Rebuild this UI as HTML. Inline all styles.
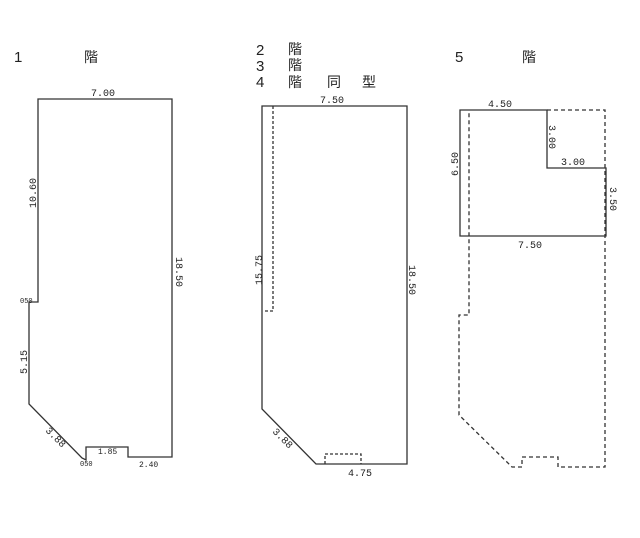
<html><body style="margin:0;background:#fff;width:640px;height:538px;overflow:hidden">
<svg width="640" height="538" xmlns="http://www.w3.org/2000/svg" font-family="Liberation Sans, sans-serif" fill="none" stroke="#333" stroke-width="1.3">
<g fill="#222" stroke="none" font-size="15">
<text x="14" y="62">1</text><text x="84" y="62" font-family="Liberation Sans, Noto Sans CJK JP, sans-serif" font-size="14">階</text>
<text x="256" y="55">2</text><text x="256" y="71">3</text><text x="256" y="87">4</text>
<g font-family="Liberation Sans, Noto Sans CJK JP, sans-serif" font-size="14"><text x="288" y="54">階</text><text x="288" y="70">階</text><text x="288" y="87">階</text><text x="327" y="87">同</text><text x="362" y="87">型</text><text x="522" y="62">階</text></g>
<text x="455" y="62">5</text>
</g>
<path d="M38,99H172V457H128V447H86V460L82,458L29,404V302H38Z"/>
<path d="M262,106H407V464H316L262,409Z"/>
<path d="M273,106V311H263" stroke-dasharray="3,2"/>
<path d="M325,464V454H361V464" stroke-dasharray="3,2"/>
<path d="M460,110H547V168H606V236H460Z"/>
<path d="M547,110H605V467H558V457H522V467H512L459,415V315H469V110" stroke-dasharray="4,3"/>
<g fill="#222" stroke="none" font-size="10" font-family="Liberation Mono, monospace">
<text x="91" y="96">7.00</text>
<text transform="translate(36,208) rotate(-90)">10.60</text>
<text transform="translate(176,257) rotate(90)">18.50</text>
<text x="20" y="303" font-size="7">050</text>
<text transform="translate(27,374) rotate(-90)">5.15</text>
<text transform="translate(45,431) rotate(45)">3.88</text>
<text x="98" y="454" font-size="8">1.85</text>
<text x="139" y="467" font-size="8">2.40</text>
<text x="80" y="466" font-size="7">050</text>
<text x="320" y="103">7.50</text>
<text transform="translate(262,285) rotate(-90)">15.75</text>
<text transform="translate(409,265) rotate(90)">18.50</text>
<text transform="translate(272,432) rotate(45)">3.88</text>
<text x="348" y="476">4.75</text>
<text x="488" y="107">4.50</text>
<text transform="translate(549,125) rotate(90)">3.00</text>
<text x="561" y="165">3.00</text>
<text transform="translate(458,176) rotate(-90)">6.50</text>
<text transform="translate(610,187) rotate(90)">3.50</text>
<text x="518" y="248">7.50</text>
</g>
</svg>
</body></html>
